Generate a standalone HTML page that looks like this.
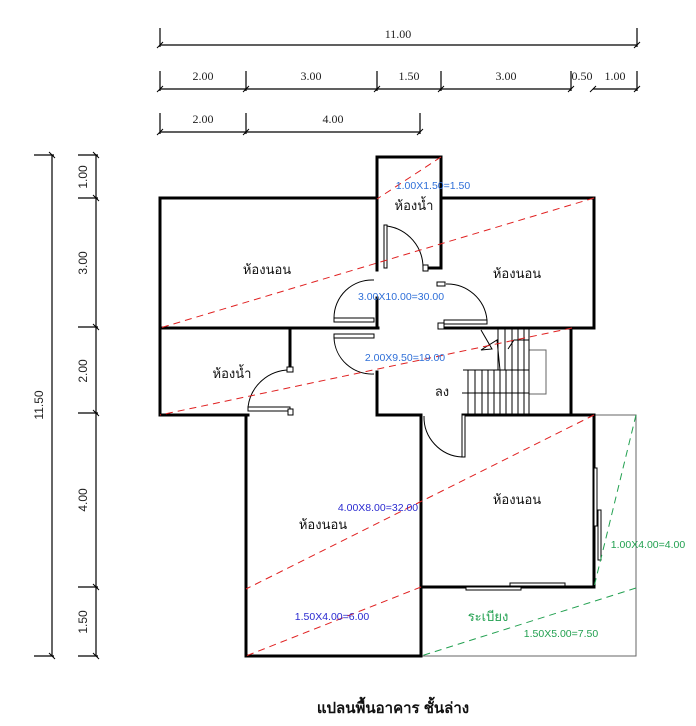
<!DOCTYPE html>
<html><head><meta charset="utf-8"><style>
html,body{margin:0;padding:0;background:#fff;}
svg{display:block;}
text{font-family:"Liberation Sans","Noto Sans CJK SC",sans-serif;}
.dim{font-family:"Liberation Serif",serif;font-size:12px;fill:#222;}
.room{font-size:13px;fill:#111;}
.blue{font-size:10.5px;fill:#2f6fd8;}
.dblue{font-size:10.5px;fill:#2a2ad0;}
.green{font-size:10.5px;fill:#22a050;}
</style></head><body>
<svg width="696" height="726" viewBox="0 0 696 726" xmlns="http://www.w3.org/2000/svg">
<g stroke="#000" stroke-width="1.2" fill="none">
 <line x1="160" y1="45" x2="637" y2="45"/>
 <line x1="160" y1="28" x2="160" y2="47"/><line x1="637" y1="28" x2="637" y2="47"/>
 <line x1="160" y1="89" x2="571" y2="89"/><line x1="593" y1="89" x2="637" y2="89"/>
 <line x1="160" y1="71" x2="160" y2="91"/><line x1="246" y1="71" x2="246" y2="91"/>
 <line x1="377" y1="71" x2="377" y2="91"/><line x1="441" y1="71" x2="441" y2="91"/>
 <line x1="571" y1="71" x2="571" y2="91"/><line x1="637" y1="71" x2="637" y2="91"/>
 <line x1="160" y1="132" x2="420" y2="132"/>
 <line x1="160" y1="113" x2="160" y2="134"/><line x1="246" y1="113" x2="246" y2="134"/><line x1="420" y1="113" x2="420" y2="134"/>
 <g stroke-width="1">
 <line x1="157" y1="48" x2="163" y2="42"/><line x1="634" y1="48" x2="640" y2="42"/>
 <line x1="157" y1="92" x2="163" y2="86"/><line x1="243" y1="92" x2="249" y2="86"/><line x1="374" y1="92" x2="380" y2="86"/><line x1="438" y1="92" x2="444" y2="86"/><line x1="568" y1="92" x2="574" y2="86"/><line x1="590" y1="92" x2="596" y2="86"/><line x1="634" y1="92" x2="640" y2="86"/>
 <line x1="157" y1="135" x2="163" y2="129"/><line x1="243" y1="135" x2="249" y2="129"/><line x1="417" y1="135" x2="423" y2="129"/>
 </g>
 <line x1="52" y1="155" x2="52" y2="656"/>
 <line x1="34" y1="155" x2="54" y2="155"/><line x1="34" y1="656" x2="54" y2="656"/>
 <line x1="96" y1="155" x2="96" y2="656"/>
 <line x1="78" y1="155" x2="98" y2="155"/><line x1="78" y1="198" x2="98" y2="198"/><line x1="78" y1="327" x2="98" y2="327"/><line x1="78" y1="413" x2="98" y2="413"/><line x1="78" y1="587" x2="98" y2="587"/><line x1="78" y1="656" x2="98" y2="656"/>
 <g stroke-width="1">
 <line x1="49" y1="152" x2="55" y2="158"/><line x1="49" y1="653" x2="55" y2="659"/>
 <line x1="93" y1="152" x2="99" y2="158"/><line x1="93" y1="195" x2="99" y2="201"/><line x1="93" y1="324" x2="99" y2="330"/><line x1="93" y1="410" x2="99" y2="416"/><line x1="93" y1="584" x2="99" y2="590"/><line x1="93" y1="653" x2="99" y2="659"/>
 </g>
</g>
<text class="dim" x="398" y="38" text-anchor="middle">11.00</text>
<text class="dim" x="203" y="80" text-anchor="middle">2.00</text>
<text class="dim" x="311" y="80" text-anchor="middle">3.00</text>
<text class="dim" x="409" y="80" text-anchor="middle">1.50</text>
<text class="dim" x="506" y="80" text-anchor="middle">3.00</text>
<text class="dim" x="582" y="80" text-anchor="middle">0.50</text>
<text class="dim" x="615" y="80" text-anchor="middle">1.00</text>
<text class="dim" x="203" y="123" text-anchor="middle">2.00</text>
<text class="dim" x="333" y="123" text-anchor="middle">4.00</text>
<g class="dim" text-anchor="middle">
<text transform="translate(43,405) rotate(-90)">11.50</text>
<text transform="translate(87,177) rotate(-90)">1.00</text>
<text transform="translate(87,263) rotate(-90)">3.00</text>
<text transform="translate(87,371) rotate(-90)">2.00</text>
<text transform="translate(87,500) rotate(-90)">4.00</text>
<text transform="translate(87,622) rotate(-90)">1.50</text>
</g>
<g stroke="#666" stroke-width="1" fill="none">
 <polyline points="594,415 636,415 636,656 421,656"/>
 <rect x="529" y="350" width="17" height="44"/>
</g>
<g stroke="#000" stroke-width="3" fill="none" stroke-linecap="square">
 <polyline points="377,270 377,157 441,157 441,268 428,268"/>
 <polyline points="377,198 160,198 160,415 248,415"/>
 <line x1="160" y1="328" x2="378" y2="328"/>
 <line x1="290" y1="328" x2="290" y2="370"/>
 <polyline points="441,198 594,198 594,328 441,328"/>
 <line x1="571" y1="328" x2="571" y2="415"/>
 <polyline points="377,372 377,415 421,415"/>
 <line x1="246" y1="415" x2="246" y2="656"/>
 <line x1="246" y1="656" x2="421" y2="656"/>
 <line x1="421" y1="415" x2="421" y2="656"/>
 <line x1="463" y1="415" x2="594" y2="415"/>
 <line x1="594" y1="415" x2="594" y2="587"/>
 <line x1="421" y1="587" x2="594" y2="587"/>
 <line x1="377" y1="298" x2="377" y2="328"/>
</g>
<g stroke="#000" stroke-width="1" fill="#fff">
 <rect x="384" y="225" width="3" height="43"/>
 <path d="M387,226 A42,42 0 0 1 423,268" fill="none"/>
 <rect x="423" y="265" width="5" height="6"/>
 <rect x="334" y="318" width="40" height="4"/>
 <path d="M374,280 A38,38 0 0 0 334,318" fill="none"/>
 <rect x="334" y="334" width="40" height="4"/>
 <path d="M334,338 A38,38 0 0 0 374,374" fill="none"/>
 <rect x="444" y="320" width="43" height="4"/>
 <path d="M446,284 A40,40 0 0 1 487,320" fill="none"/>
 <rect x="437" y="282" width="8" height="4"/>
 <rect x="438" y="323" width="6" height="6"/>
 <rect x="248" y="407" width="42" height="4"/>
 <path d="M248,407 A42,42 0 0 1 290,370" fill="none"/>
 <rect x="287" y="367" width="6" height="5"/>
 <rect x="288" y="409" width="5" height="6"/>
 <rect x="462" y="415" width="3" height="42"/>
 <path d="M424,416 A40,40 0 0 0 462,457" fill="none"/>
 <rect x="594" y="468" width="3" height="58"/>
 <rect x="598" y="510" width="3" height="50"/>
 <rect x="466" y="587" width="55" height="3"/>
 <rect x="510" y="583" width="55" height="3"/>
</g>
<g stroke="#000" stroke-width="1" fill="none">
 <path d="M498,328 v42 M505,328 v42 M512,328 v42 M518,328 v42 M524,328 v42 M529,328 v87
 M468,370 v45 M475,370 v45 M482,370 v45 M488,370 v45 M494,370 v45 M500,370 v45 M506,370 v45 M512,370 v45 M518,370 v45 M524,370 v45"/>
 <line x1="463" y1="370" x2="529" y2="370"/>
 <line x1="462" y1="393" x2="529" y2="393"/>
 <polyline points="481,330 492,349 481,350 497,340 500,370"/>
 <polyline points="508,349 514,340 529,340"/>
</g>
<g stroke="#e02020" stroke-width="1" stroke-dasharray="7,5" fill="none">
 <line x1="441" y1="157" x2="377" y2="199"/>
 <line x1="594" y1="198" x2="160" y2="328"/>
 <line x1="572" y1="328" x2="160" y2="415"/>
 <line x1="594" y1="415" x2="246" y2="589"/>
 <line x1="421" y1="587" x2="246" y2="656"/>
</g>
<g stroke="#22a050" stroke-width="1" stroke-dasharray="7,5" fill="none">
 <line x1="636" y1="415" x2="594" y2="587"/>
 <line x1="636" y1="588" x2="421" y2="656"/>
</g>
<text class="room" x="267" y="274" text-anchor="middle">ห้องนอน</text>
<text class="room" x="414" y="210" text-anchor="middle">ห้องน้ำ</text>
<text class="room" x="517" y="278" text-anchor="middle">ห้องนอน</text>
<text class="room" x="232" y="378" text-anchor="middle">ห้องน้ำ</text>
<text class="room" x="442" y="396" text-anchor="middle">ลง</text>
<text class="room" x="517" y="504" text-anchor="middle">ห้องนอน</text>
<text class="room" x="323" y="529" text-anchor="middle">ห้องนอน</text>
<text class="blue" x="433" y="189" text-anchor="middle">1.00X1.50=1.50</text>
<text class="blue" x="401" y="300" text-anchor="middle">3.00X10.00=30.00</text>
<text class="blue" x="405" y="361" text-anchor="middle">2.00X9.50=19.00</text>
<text class="dblue" x="378" y="511" text-anchor="middle">4.00X8.00=32.00</text>
<text class="dblue" x="332" y="620" text-anchor="middle">1.50X4.00=6.00</text>
<text class="green" x="648" y="548" text-anchor="middle">1.00X4.00=4.00</text>
<text class="green" x="561" y="637" text-anchor="middle">1.50X5.00=7.50</text>
<text class="green" x="488" y="621" text-anchor="middle" style="font-size:13px">ระเบียง</text>
<text x="393" y="713" text-anchor="middle" style="font-size:15px;font-weight:bold;fill:#111">แปลนพื้นอาคาร ชั้นล่าง</text>
</svg>
</body></html>
